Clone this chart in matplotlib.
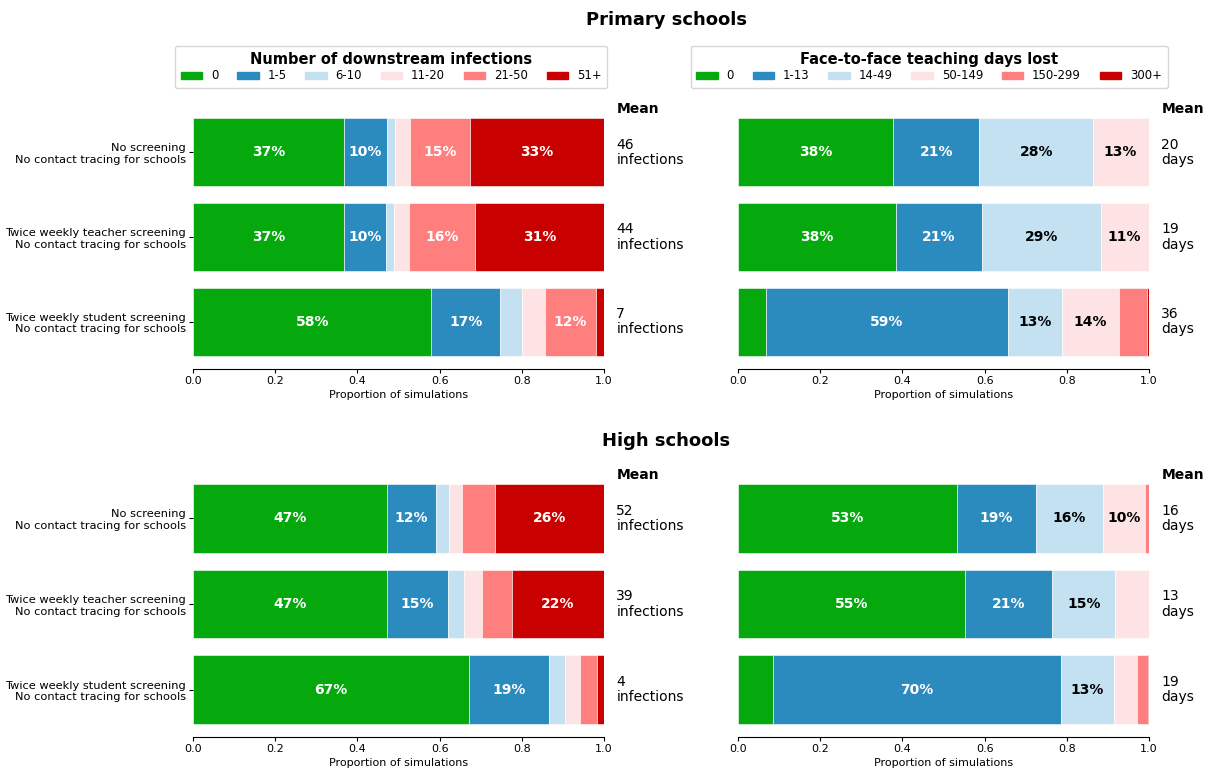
import numpy as np
import matplotlib.pyplot as plt

strategies = ["No screening\nNo contact tracing for schools",
              "Twice weekly teacher screening\nNo contact tracing for schools",
              "Twice weekly student screening\nNo contact tracing for schools"]

infection_bins = ["0", "1-5", "6-10", "11-20", "21-50", "51+"]
days_bins = ["0", "1-13", "14-49", "50-149", "150-299", "300+"]

colours = ["#05a90e", "#2b8bbe", "#c3e1f1", "#fde3e3", "#ff7f7f", "#c80000"]
dark_text = [False, False, True, True, False, False]

# proportion of simulations in each bin, one row per strategy
primary_infections = [[0.367, 0.104, 0.021, 0.035, 0.147, 0.326],
                      [0.368, 0.101, 0.020, 0.036, 0.161, 0.314],
                      [0.580, 0.168, 0.052, 0.056, 0.124, 0.020]]
primary_days = [[0.378, 0.209, 0.277, 0.133, 0.003, 0.000],
                [0.384, 0.209, 0.290, 0.114, 0.003, 0.000],
                [0.067, 0.590, 0.132, 0.138, 0.069, 0.004]]
high_infections = [[0.471, 0.121, 0.031, 0.032, 0.081, 0.264],
                   [0.471, 0.150, 0.039, 0.042, 0.074, 0.224],
                   [0.671, 0.194, 0.040, 0.036, 0.041, 0.018]]
high_days = [[0.534, 0.190, 0.165, 0.102, 0.008, 0.001],
             [0.553, 0.212, 0.153, 0.080, 0.002, 0.000],
             [0.085, 0.700, 0.131, 0.054, 0.028, 0.002]]

primary_mean_infections = [46, 44, 7]
primary_mean_days = [20, 19, 36]
high_mean_infections = [52, 39, 4]
high_mean_days = [16, 13, 19]

YPAD = 0.555


def stacked(ax, props, means, unit, show_labels):
    props = np.array(props)
    y = np.arange(len(props))
    left = np.zeros(len(props))
    for j in range(props.shape[1]):
        ax.barh(y, props[:, j], left=left, height=0.8, color=colours[j],
                edgecolor="white", linewidth=0.4)
        for i in range(len(props)):
            if props[i, j] >= 0.095:
                ax.text(left[i] + props[i, j] / 2, y[i], f"{props[i, j]:.0%}",
                        ha="center", va="center", fontsize=10, fontweight="bold",
                        color="black" if dark_text[j] else "white")
        left += props[:, j]
    for i, m in enumerate(means):
        ax.text(1.03, y[i], f"{m}\n{unit}", ha="left", va="center", fontsize=10,
                linespacing=1.1, transform=ax.get_yaxis_transform())
    ax.text(1.03, -0.51, "Mean", ha="left", va="center", fontsize=10,
            fontweight="bold", transform=ax.get_yaxis_transform())
    ax.set_xlim(0, 1)
    ax.set_ylim(2 + YPAD, -YPAD)
    ax.set_yticks(y)
    if show_labels:
        ax.set_yticklabels(strategies, fontsize=8.2)
        ax.tick_params(axis="y", length=3, pad=2)
    else:
        ax.set_yticklabels([])
        ax.tick_params(axis="y", length=0)
    ax.tick_params(axis="x", labelsize=8, length=3, pad=2)
    ax.set_xlabel("Proportion of simulations", fontsize=8, labelpad=3)
    for s in ["top", "right", "left"]:
        ax.spines[s].set_visible(False)


def legend(ax, labels, title, xc):
    handles = [plt.Rectangle((0, 0), 1, 1, color=c) for c in colours]
    ax.legend(handles, labels, title=title, ncol=6, loc="lower center",
              bbox_to_anchor=(xc, 1.064), fontsize=8.4, handlelength=1.85,
              handleheight=0.55, columnspacing=1.6, handletextpad=0.75,
              borderpad=0.5, borderaxespad=0, labelspacing=0.2,
              title_fontproperties={"weight": "bold", "size": 10.5})


fig = plt.figure(figsize=(12.09, 7.69), dpi=100)
W, H = 1209, 769
lx, rx, aw = 193 / W, 738 / W, 411 / W
top_b, top_h = 1 - 369 / H, 264 / H
bot_b, bot_h = 1 - 737 / H, 266 / H

ax1 = fig.add_axes([lx, top_b, aw, top_h])
ax2 = fig.add_axes([rx, top_b, aw, top_h])
ax3 = fig.add_axes([lx, bot_b, aw, bot_h])
ax4 = fig.add_axes([rx, bot_b, aw, bot_h])

stacked(ax1, primary_infections, primary_mean_infections, "infections", True)
stacked(ax2, primary_days, primary_mean_days, "days", False)
stacked(ax3, high_infections, high_mean_infections, "infections", True)
stacked(ax4, high_days, high_mean_days, "days", False)

legend(ax1, infection_bins, "Number of downstream infections", 0.482)
legend(ax2, days_bins, "Face-to-face teaching days lost", 0.465)

fig.text(666 / W, 1 - 20 / H, "Primary schools", ha="center", va="center",
         fontsize=13, fontweight="bold")
fig.text(666 / W, 1 - 441 / H, "High schools", ha="center", va="center",
         fontsize=13, fontweight="bold")

fig.savefig("out.png", dpi=100)
